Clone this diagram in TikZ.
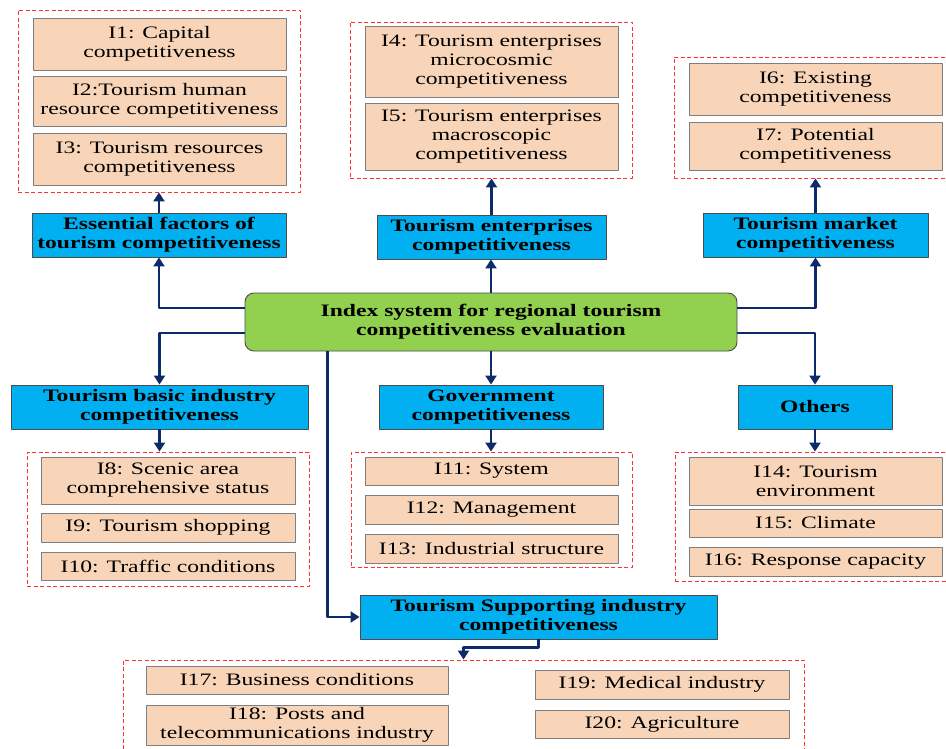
\documentclass[tikz,border=0pt]{standalone}
\usepackage{fontspec}
\setmainfont{Liberation Serif}[FakeStretch=1.35]
\usepackage{tikz}
\usetikzlibrary{arrows.meta,positioning}
\definecolor{tcPeach}{HTML}{F8D5B8}
\definecolor{tcBlue}{HTML}{00B0F0}
\definecolor{tcGreen}{HTML}{92D050}
\definecolor{tcNavy}{HTML}{0D2A6B}
\definecolor{tcRed}{HTML}{FF3030}
\definecolor{tcEdge}{HTML}{7F7F7F}

\begin{document}
\begin{tikzpicture}[x=1pt, y=-1pt, line join=round,
    font=\fontsize{17.5pt}{19pt}\selectfont,
    item/.style={draw=tcEdge, line width=0.9pt, fill=tcPeach, align=center, inner sep=0pt},
    factor/.style={draw=tcEdge!60!black, line width=0.9pt, fill=tcBlue, align=center,
                   inner sep=0pt, minimum height=44pt,
                   font=\fontsize{17.5pt}{19pt}\selectfont\bfseries},
    root/.style={factor, fill=tcGreen, rounded corners=9pt},
    group/.style={draw=tcRed, dash pattern=on 4pt off 2.5pt, line width=0.9pt, inner sep=0pt},
    link/.style={draw=tcNavy, line width=2.4pt, -{Triangle[width=11pt,length=9pt]}}]
    \useasboundingbox (0,0) rectangle (946,749);

    % ── index groups (dashed frames) ────────────────────────────────────
    \node[group, minimum width=282pt, minimum height=182pt] (g1) at (159,101) {};
    \node[group, minimum width=282pt, minimum height=156pt] (g2) at (491,100) {};
    \node[group, minimum width=273pt, minimum height=121pt] (g3) at (810.5,117.5) {};
    \node[group, minimum width=282pt, minimum height=134pt] (g4) at (168,519) {};
    \node[group, minimum width=281pt, minimum height=115pt] (g5) at (491.5,509.5) {};
    \node[group, minimum width=272pt, minimum height=129pt] (g6) at (811,516.5) {};
    \node[group, minimum width=681pt, minimum height=100pt] (g7) at (463.5,710) {};

    % ── indices I1 -- I7 (upper row) ────────────────────────────────────
    \node[item, minimum width=253pt, minimum height=52pt] (i1) at (159.5,44) {I1: Capital\\competitiveness};
    \node[item, minimum width=253pt, minimum height=50pt] (i2) at (159.5,101) {I2:Tourism human\\resource competitiveness};
    \node[item, minimum width=253pt, minimum height=52pt] (i3) at (159.5,159) {I3: Tourism resources\\competitiveness};
    \node[item, minimum width=253pt, minimum height=71pt] (i4) at (491.5,61.5) {I4: Tourism enterprises\\microcosmic\\competitiveness};
    \node[item, minimum width=253pt, minimum height=67pt] (i5) at (491.5,136.5) {I5: Tourism enterprises\\macroscopic\\competitiveness};
    \node[item, minimum width=253pt, minimum height=52pt] (i6) at (815.5,89) {I6: Existing\\competitiveness};
    \node[item, minimum width=253pt, minimum height=48pt] (i7) at (815.5,146) {I7: Potential\\competitiveness};

    % ── indices I8 -- I16 (middle row) ──────────────────────────────────
    \node[item, minimum width=254pt, minimum height=47pt] (i8) at (168,480.5) {I8: Scenic area\\comprehensive status};
    \node[item, minimum width=254pt, minimum height=29pt] (i9) at (168,527.5) {I9: Tourism shopping};
    \node[item, minimum width=254pt, minimum height=28pt] (i10) at (168,566) {I10: Traffic conditions};
    \node[item, minimum width=253pt, minimum height=28pt] (i11) at (491.5,471) {I11: System};
    \node[item, minimum width=253pt, minimum height=29pt] (i12) at (491.5,509.5) {I12: Management};
    \node[item, minimum width=253pt, minimum height=29pt] (i13) at (491.5,548.5) {I13: Industrial structure};
    \node[item, minimum width=253pt, minimum height=48pt] (i14) at (815.5,481) {I14: Tourism\\environment};
    \node[item, minimum width=253pt, minimum height=28pt] (i15) at (815.5,523) {I15: Climate};
    \node[item, minimum width=253pt, minimum height=29pt] (i16) at (815.5,561.5) {I16: Response capacity};

    % ── indices I17 -- I20 (bottom row) ─────────────────────────────────
    \node[item, minimum width=302pt, minimum height=28pt] (i17) at (297,680) {I17: Business conditions};
    \node[item, minimum width=302pt, minimum height=40pt] (i18) at (297,725) {I18: Posts and\\telecommunications industry};
    \node[item, minimum width=254pt, minimum height=29pt] (i19) at (662,684.5) {I19: Medical industry};
    \node[item, minimum width=254pt, minimum height=28pt] (i20) at (662,724) {I20: Agriculture};

    % ── criteria and root ───────────────────────────────────────────────
    \node[root, minimum width=492pt, minimum height=58pt] (root) at (491,322)
      {Index system for regional tourism\\competitiveness evaluation};
    \node[factor, minimum width=254pt] (ess) at (159,235) {Essential factors of\\tourism competitiveness};
    \node[factor, minimum width=229pt] (ent) at (491.5,237) {Tourism enterprises\\competitiveness};
    \node[factor, minimum width=225pt] (mkt) at (815.5,235) {Tourism market\\competitiveness};
    \node[factor, minimum width=297pt] (basic) at (159.5,407) {Tourism basic industry\\competitiveness};
    \node[factor, minimum width=224pt] (gov) at (491,407) {Government\\competitiveness};
    \node[factor, minimum width=154pt] (oth) at (815,407) {Others};
    \node[factor, minimum width=357pt] (sup) at (538.5,617) {Tourism Supporting industry\\competitiveness};

    % ── root to criteria ────────────────────────────────────────────────
    \draw[link] ([yshift=14pt]root.west) -| (ess.south);
    \draw[link] ([yshift=-11pt]root.west) -| (basic.north);
    \draw[link] (root.north) -- (root.north |- ent.south);
    \draw[link] (root.south) -- (root.south |- gov.north);
    \draw[link] ([yshift=14pt]root.east) -| (mkt.south);
    \draw[link] ([yshift=-11pt]root.east) -| (oth.north);
    \draw[link] ([xshift=83pt]root.south west) |- (sup.west);

    % ── criteria to index groups ────────────────────────────────────────
    \draw[link] (ess.north) -- (ess.north |- g1.south);
    \draw[link] (ent.north) -- (ent.north |- g2.south);
    \draw[link] (mkt.north) -- (mkt.north |- g3.south);
    \draw[link] (basic.south) -- (basic.south |- g4.north);
    \draw[link] (gov.south) -- (gov.south |- g5.north);
    \draw[link] (oth.south) -- (oth.south |- g6.north);
    \draw[link] (sup.south) -- ++(0,8) -| (g7.north);
\end{tikzpicture}
\end{document}
